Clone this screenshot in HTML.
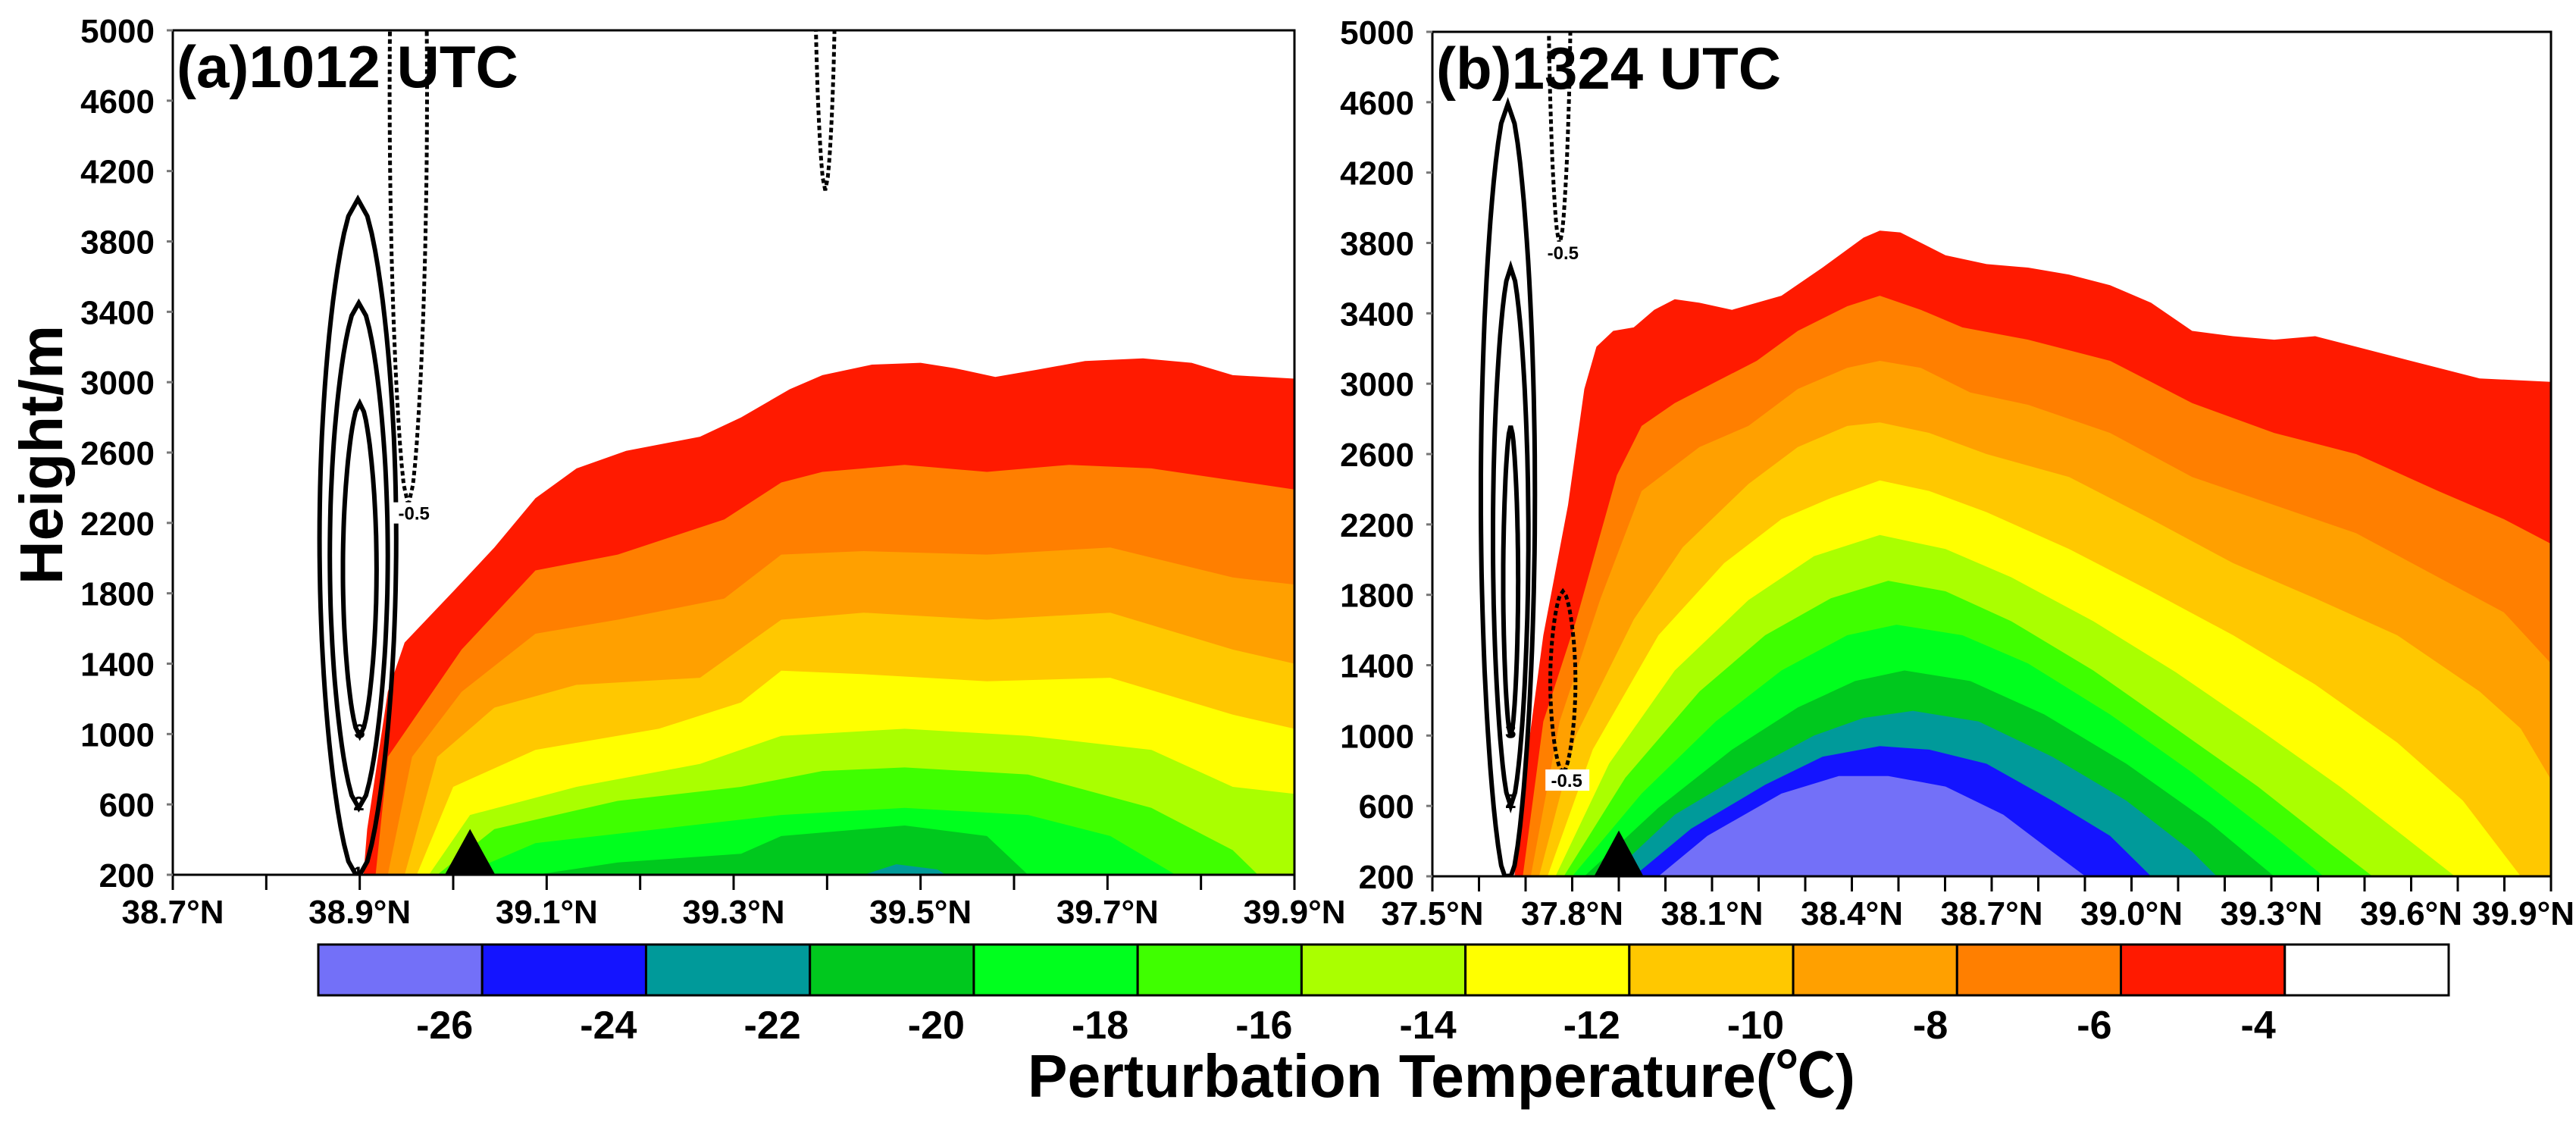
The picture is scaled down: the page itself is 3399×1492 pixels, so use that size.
<!DOCTYPE html>
<html><head><meta charset="utf-8"><style>
html,body{margin:0;padding:0;background:#fff}
svg{display:block}
text{font-family:"Liberation Sans",sans-serif;font-weight:bold;fill:#000}
</style></head><body>
<svg id="chart" width="3399" height="1492" viewBox="0 0 3399 1492" xmlns="http://www.w3.org/2000/svg">
<defs>
<clipPath id="clipA"><rect x="228" y="40" width="1480" height="1114"/></clipPath>
<clipPath id="clipB"><rect x="1890" y="42" width="1476" height="1114"/></clipPath>
</defs>
<g id="panelA"></g>
<g id="panelB"></g>
<g id="cbar"></g>
<text transform="translate(82,600) rotate(-90)" text-anchor="middle" font-size="80">Height/m</text>
<text x="1356" y="1447" font-size="80" textLength="1092" lengthAdjust="spacingAndGlyphs" style="font-family:'Liberation Sans','Noto Sans CJK SC',sans-serif">Perturbation Temperature(℃)</text>
</svg>
<script>
const levelValues = [-4,-6,-8,-10,-12,-14,-16,-18,-20,-22,-24,-26];
const levelColors = ["#FF1A00","#FF7F00","#FFA000","#FFC800","#FFFF00","#AAFF00","#3FFF00","#00FF1E","#00C81E","#009A9A","#1414FF","#7370F8"];
const cbarColors = ["#7370F8","#1414FF","#009A9A","#00C81E","#00FF1E","#3FFF00","#AAFF00","#FFFF00","#FFC800","#FFA000","#FF7F00","#FF1A00","#FFFFFF"];
const cbarLabels = ["-26","-24","-22","-20","-18","-16","-14","-12","-10","-8","-6","-4"];
const heightTicks = [200,600,1000,1400,1800,2200,2600,3000,3400,3800,4200,4600,5000];

// Panel (a) contour tops [lat, height]
const a_m4 = [[38.904,200],[38.908,460],[38.93,1240],[38.948,1520],[39.0,1810],[39.044,2060],[39.088,2340],[39.132,2510],[39.185,2610],[39.264,2690],[39.308,2800],[39.36,2960],[39.395,3040],[39.448,3100],[39.5,3110],[39.536,3080],[39.58,3030],[39.624,3070],[39.676,3120],[39.738,3135],[39.79,3110],[39.834,3040],[39.9,3020]];
const a_m6 = [[38.917,200],[38.93,870],[39.009,1480],[39.088,1930],[39.176,2020],[39.29,2220],[39.351,2430],[39.395,2490],[39.483,2530],[39.571,2490],[39.659,2530],[39.747,2510],[39.9,2390]];
const a_m8 = [[38.93,200],[38.956,870],[39.009,1240],[39.088,1570],[39.176,1650],[39.29,1770],[39.351,2020],[39.439,2040],[39.571,2020],[39.703,2060],[39.834,1890],[39.9,1850]];
const a_m10 = [[38.948,200],[38.983,870],[39.044,1150],[39.132,1280],[39.264,1320],[39.351,1650],[39.439,1690],[39.571,1650],[39.703,1690],[39.834,1480],[39.9,1400]];
const a_m12 = [[38.961,200],[39.0,700],[39.088,910],[39.22,1030],[39.308,1180],[39.351,1360],[39.439,1340],[39.571,1300],[39.703,1320],[39.834,1110],[39.9,1030]];
const a_m14 = [[38.974,200],[39.018,540],[39.132,700],[39.264,830],[39.351,990],[39.483,1030],[39.615,990],[39.747,910],[39.834,700],[39.9,660]];
const a_m16 = [[38.983,200],[39.044,460],[39.176,620],[39.308,700],[39.395,790],[39.483,810],[39.615,770],[39.747,580],[39.834,340],[39.861,200]];
const a_m18 = [[39.009,200],[39.088,380],[39.22,460],[39.351,540],[39.483,580],[39.615,540],[39.703,420],[39.773,200]];
const a_m20 = [[39.088,200],[39.176,270],[39.308,320],[39.351,420],[39.483,480],[39.571,420],[39.615,200]];
const a_m22 = [[39.439,200],[39.474,260],[39.518,230],[39.527,200]];
const a_m24 = [];
const a_m26 = [];

// Panel (b) contour tops [lat, height]
const b_m4 = [[37.676,200],[37.703,880],[37.738,1570],[37.791,2310],[37.826,2970],[37.852,3210],[37.888,3300],[37.932,3320],[37.976,3420],[38.02,3480],[38.073,3460],[38.143,3420],[38.249,3500],[38.337,3660],[38.425,3830],[38.46,3870],[38.504,3860],[38.601,3730],[38.689,3680],[38.778,3660],[38.866,3620],[38.954,3560],[39.042,3460],[39.13,3300],[39.218,3270],[39.306,3250],[39.394,3270],[39.482,3210],[39.57,3150],[39.658,3090],[39.747,3030],[39.9,3010]];
const b_m6 = [[37.694,200],[37.738,1080],[37.808,1650],[37.896,2480],[37.949,2760],[38.02,2890],[38.108,3010],[38.196,3130],[38.284,3300],[38.39,3440],[38.46,3500],[38.548,3420],[38.637,3320],[38.778,3250],[38.954,3130],[39.042,3010],[39.13,2890],[39.306,2720],[39.482,2600],[39.658,2390],[39.799,2230],[39.9,2090]];
const b_m8 = [[37.711,200],[37.773,1080],[37.861,1780],[37.949,2390],[38.073,2640],[38.178,2760],[38.284,2970],[38.39,3090],[38.46,3130],[38.548,3090],[38.654,2950],[38.778,2880],[38.954,2720],[39.13,2470],[39.306,2310],[39.482,2150],[39.658,1900],[39.799,1700],[39.9,1410]];
const b_m10 = [[37.729,200],[37.808,1000],[37.932,1660],[38.037,2070],[38.178,2430],[38.284,2640],[38.39,2760],[38.46,2780],[38.566,2720],[38.689,2600],[38.866,2470],[39.042,2230],[39.218,1980],[39.394,1780],[39.57,1570],[39.747,1250],[39.835,1040],[39.9,750]];
const b_m12 = [[37.747,200],[37.844,920],[37.985,1570],[38.126,1980],[38.249,2230],[38.355,2350],[38.46,2450],[38.566,2390],[38.689,2270],[38.866,2060],[39.042,1820],[39.218,1570],[39.394,1290],[39.57,960],[39.711,630],[39.835,200]];
const b_m14 = [[37.764,200],[37.879,840],[38.02,1370],[38.178,1770],[38.319,2020],[38.46,2140],[38.601,2060],[38.742,1900],[38.918,1650],[39.095,1360],[39.271,1040],[39.447,710],[39.588,420],[39.694,200]];
const b_m16 = [[37.782,200],[37.914,760],[38.073,1250],[38.214,1570],[38.355,1780],[38.478,1880],[38.601,1820],[38.742,1650],[38.918,1370],[39.095,1040],[39.271,710],[39.429,380],[39.517,200]];
const b_m18 = [[37.80,200],[37.949,670],[38.108,1080],[38.249,1370],[38.39,1570],[38.496,1630],[38.637,1570],[38.778,1410],[38.954,1120],[39.13,790],[39.306,430],[39.412,200]];
const b_m20 = [[37.826,200],[37.985,590],[38.143,920],[38.284,1160],[38.407,1310],[38.513,1370],[38.654,1310],[38.813,1120],[38.989,840],[39.165,510],[39.306,200]];
const b_m22 = [[37.879,200],[38.02,550],[38.178,800],[38.319,1000],[38.425,1100],[38.531,1140],[38.672,1080],[38.83,880],[38.989,630],[39.13,340],[39.183,200]];
const b_m24 = [[37.932,200],[38.055,470],[38.214,720],[38.337,880],[38.46,940],[38.566,920],[38.689,840],[38.83,630],[38.954,430],[39.042,200]];
const b_m26 = [[37.985,200],[38.09,430],[38.249,670],[38.372,770],[38.478,770],[38.601,710],[38.725,550],[38.83,340],[38.901,200]];

// Contour line lenses: [centerLat, halfWidth, topHeight, bottomHeight, label]
const a_solid = [[38.898,0.041,4040,180,"1"],[38.899,0.031,3450,580,"2"],[38.9,0.018,2880,990,"3"]];
const a_dashed = [[38.952,0.02,7000,2300,"-0.5"],[39.398,0.011,7000,4090,""]];
const b_solid = [[37.662,0.058,4590,150,"1"],[37.668,0.038,3660,600,"2"],[37.668,0.016,2760,1000,"3"]];
const b_dashed = [[37.773,0.024,7000,3790,"-0.5"],[37.78,0.027,1820,790,"-0.5"]];
const a_terrain = [39.018,0.027,460];
const b_terrain = [37.9,0.053,460];

const NS="http://www.w3.org/2000/svg";
function mk(tag,attrs,parent){const e=document.createElementNS(NS,tag);for(const k in attrs)e.setAttribute(k,attrs[k]);parent.appendChild(e);return e;}

function drawPanel(g,clipId,x0,x1,y0,y1,lat0,lat1,levels,solid,dashed,terrain,ticksStep,labelEvery,title){
  const sx=v=>x0+(v-lat0)/(lat1-lat0)*(x1-x0);
  const sy=h=>y1-(h-200)/4800*(y1-y0);
  const fills=mk('g',{'clip-path':'url(#'+clipId+')'},g);
  
  
  levels.forEach((pts,i)=>{
    if(!pts.length)return;
    let d='M'+pts.map(p=>sx(p[0]).toFixed(1)+','+sy(p[1]).toFixed(1)).join('L');
    d+='L'+sx(pts[pts.length-1][0]).toFixed(1)+','+(y1+2)+'L'+sx(pts[0][0]).toFixed(1)+','+(y1+2)+'Z';
    const p=mk('path',{d:d,fill:levelColors[i]},fills);
    
    
  });
  const lines=mk('g',{'clip-path':'url(#'+clipId+')',fill:'none',stroke:'#000'},g);
  
  
  function lens(c,dash){
    const [lc,hw,top,bot]=c;const N=40;const L=[],R=[];
    for(let k=0;k<=N;k++){const t=k/N;const h=bot+(top-bot)*t;const w=hw*Math.pow(Math.sin(Math.PI*t),0.55);L.push([lc-w,h]);R.push([lc+w,h]);}
    const all=L.concat(R.reverse());
    const d='M'+all.map(p=>sx(p[0]).toFixed(1)+','+sy(p[1]).toFixed(1)).join('L')+'Z';
    const p=mk('path',{d:d,'stroke-width':dash?5:6},lines);
    if(dash)p.setAttribute('stroke-dasharray','6 4');
    
    
    if(c[4]){
      const lx=sx(lc+(dash?hw*0.3:0)), ly=sy(bot)+(dash?10:-6);
      if(dash){const r=mk('rect',{x:lx-28,y:ly-14,width:58,height:28,fill:'#fff',stroke:'none'},lines);}
      const tx=mk('text',{x:lx,y:ly+9,'text-anchor':'middle','font-size':dash?24:26,stroke:'none'},lines);
      
      
      tx.textContent=c[4];
    }
  }
  solid.forEach(c=>lens(c,false));
  dashed.forEach(c=>lens(c,true));
  const tri=mk('path',{d:'M'+sx(terrain[0]-terrain[1])+','+y1+'L'+sx(terrain[0])+','+sy(terrain[2])+'L'+sx(terrain[0]+terrain[1])+','+y1+'Z',fill:'#000'},g);
  
  
  const frame=mk('rect',{x:x0,y:y0,width:x1-x0,height:y1-y0,fill:'none',stroke:'#000','stroke-width':3},g);
  
  
  const nT=Math.round((lat1-lat0)/ticksStep);
  for(let k=0;k<=nT;k++){
    const v=lat0+k*ticksStep;const x=sx(v);
    const t=mk('line',{x1:x,x2:x,y1:y1,y2:y1+20,stroke:'#000','stroke-width':3},g);
    
    
    if(k%labelEvery===0){
      const last=(k===nT && x1>3000);
      const tx=mk('text',{x:last?3397:x,y:y1+64,'text-anchor':last?'end':'middle','font-size':44},g);
      
      
      tx.textContent=v.toFixed(1)+'°N';
    }
  }
  heightTicks.forEach(h=>{
    const y=sy(h);
    const t=mk('line',{x1:x0-8,x2:x0,y1:y,y2:y,stroke:'#777','stroke-width':3},g);
    
    
    const tx=mk('text',{x:x0-24,y:y+16,'text-anchor':'end','font-size':44},g);
    
    
    tx.textContent=h;
  });
  const tt=mk('text',{x:x0+5,y:y0+75,'font-size':78},g);
  
  
  tt.textContent=title;
}
drawPanel(document.getElementById('panelA'),'clipA',228,1708,40,1154,38.7,39.9,
  [a_m4,a_m6,a_m8,a_m10,a_m12,a_m14,a_m16,a_m18,a_m20,a_m22,a_m24,a_m26],a_solid,a_dashed,a_terrain,0.1,2,'(a)1012 UTC');
drawPanel(document.getElementById('panelB'),'clipB',1890,3366,42,1156,37.5,39.9,
  [b_m4,b_m6,b_m8,b_m10,b_m12,b_m14,b_m16,b_m18,b_m20,b_m22,b_m24,b_m26],b_solid,b_dashed,b_terrain,0.1,3,'(b)1324 UTC');

(function(){
  const g=document.getElementById('cbar');
  const cx0=420,cx1=3231,cy0=1246,cy1=1313;const w=(cx1-cx0)/cbarColors.length;
  cbarColors.forEach((c,i)=>{
    const r=mk('rect',{x:cx0+i*w,y:cy0,width:w,height:cy1-cy0,fill:c,stroke:'#000','stroke-width':3},g);
    
    
  });
  cbarLabels.forEach((l,i)=>{
    const t=mk('text',{x:cx0+(i+1)*w-12,y:1370,'text-anchor':'end','font-size':52},g);
    
    
    t.textContent=l;
  });
})();
</script>
</body></html>
